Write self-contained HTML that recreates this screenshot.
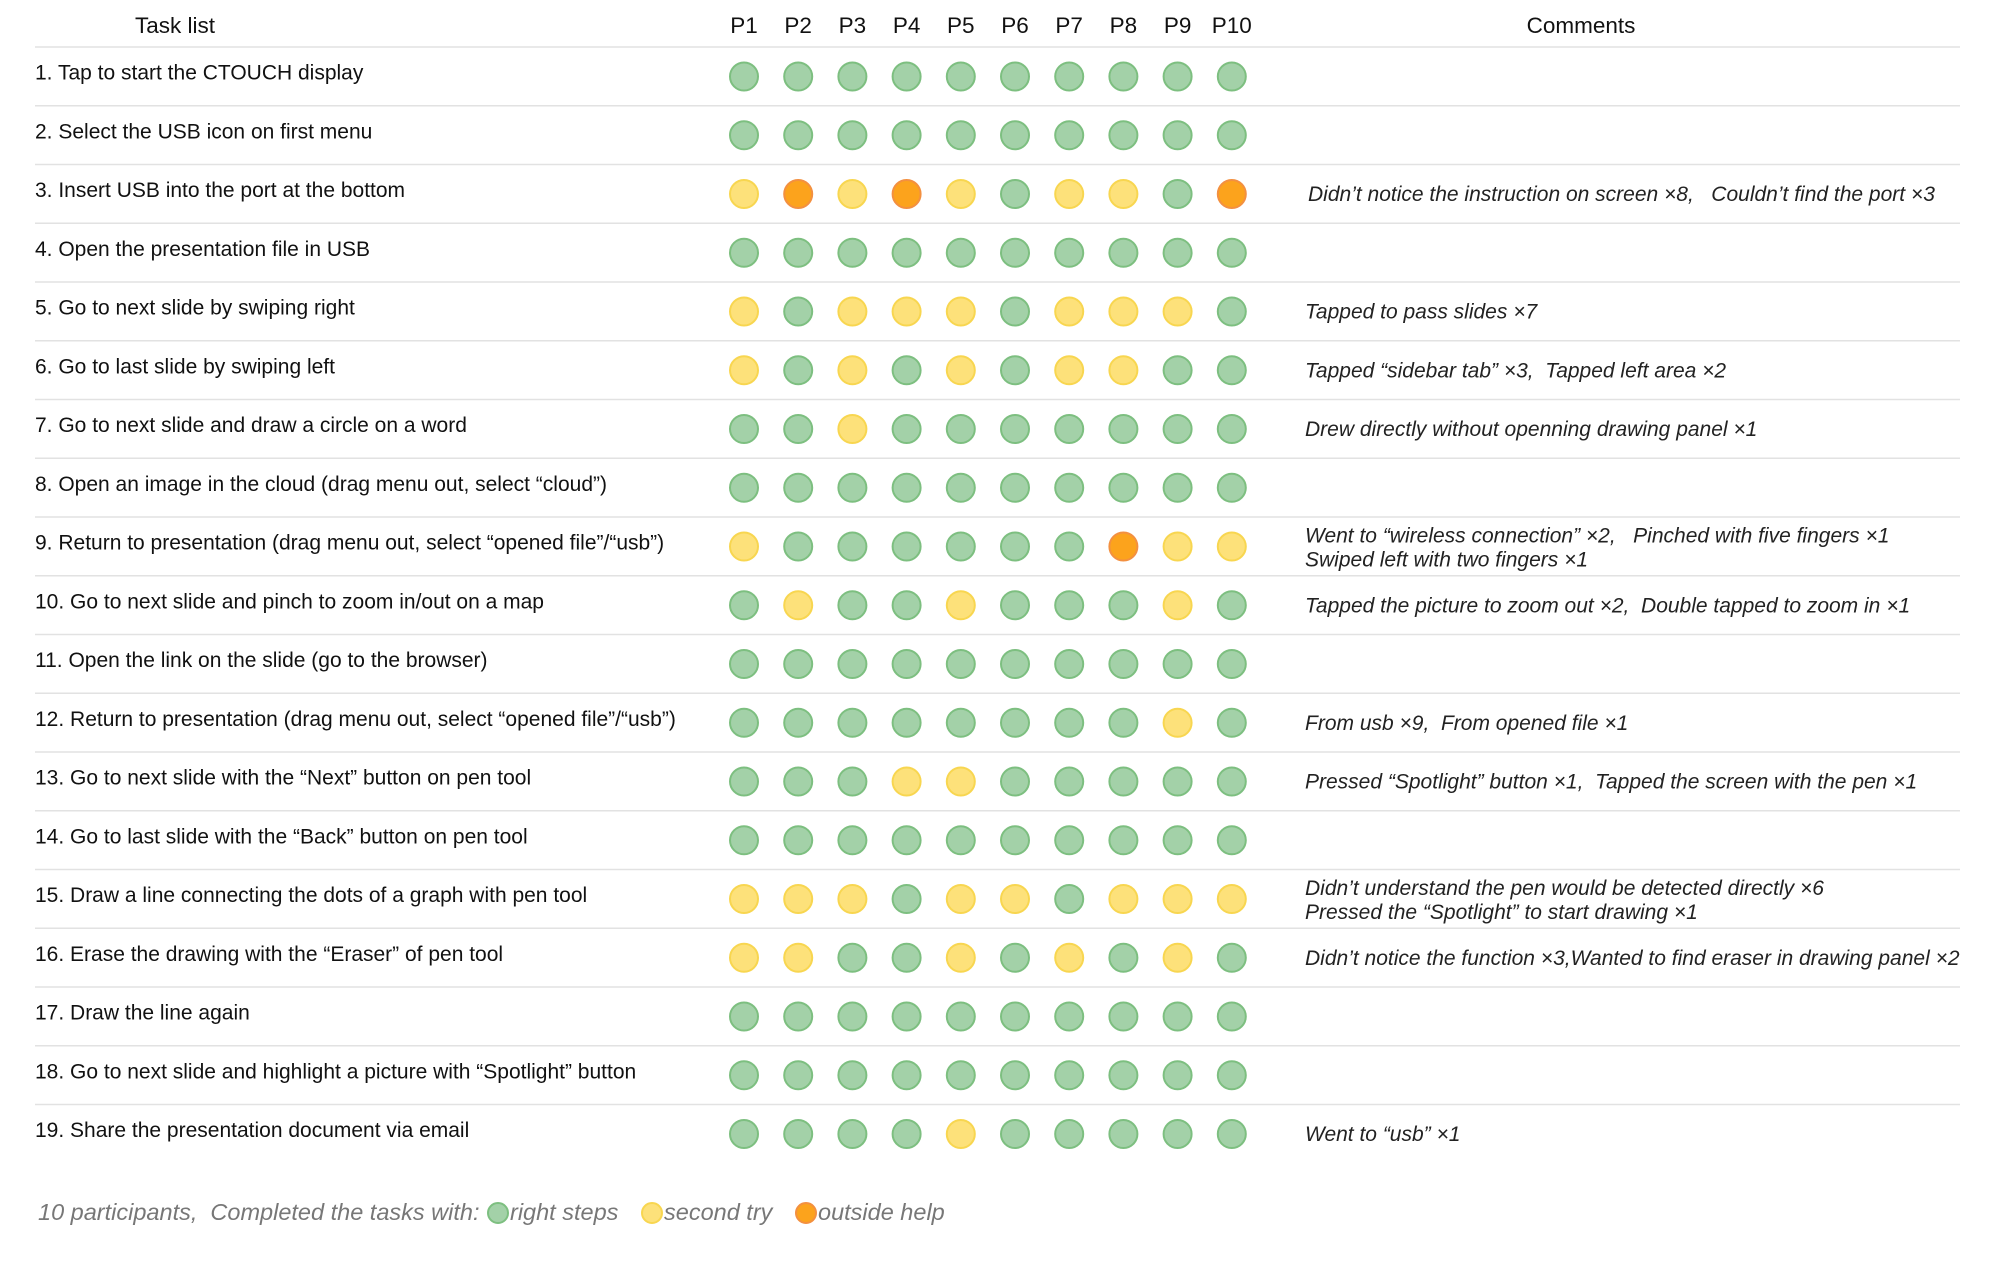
<!DOCTYPE html>
<html><head><meta charset="utf-8"><style>
body{margin:0;background:#fff;width:2000px;height:1257px;overflow:hidden;font-family:"Liberation Sans",Arial,sans-serif}
svg text{font-family:"Liberation Sans",Arial,sans-serif}
</style></head><body>
<svg id="chart" width="2000" height="1257" xmlns="http://www.w3.org/2000/svg"></svg>
<script>
const participants=["P1","P2","P3","P4","P5","P6","P7","P8","P9","P10"];
const tasks=["1. Tap to start the CTOUCH display","2. Select the USB icon on first menu","3. Insert USB into the port at the bottom","4. Open the presentation file in USB","5. Go to next slide by swiping right","6. Go to last slide by swiping left","7. Go to next slide and draw a circle on a word","8. Open an image in the cloud (drag menu out, select \u201ccloud\u201d)","9. Return to presentation (drag menu out, select \u201copened file\u201d/\u201cusb\u201d)","10. Go to next slide and pinch to zoom in/out on a map","11. Open the link on the slide (go to the browser)","12. Return to presentation (drag menu out, select \u201copened file\u201d/\u201cusb\u201d)","13. Go to next slide with the \u201cNext\u201d button on pen tool","14. Go to last slide with the \u201cBack\u201d button on pen tool","15. Draw a line connecting the dots of a graph with pen tool","16. Erase the drawing with the \u201cEraser\u201d of pen tool","17. Draw the line again","18. Go to next slide and highlight a picture with \u201cSpotlight\u201d button","19. Share the presentation document via email"];
const results=["GGGGGGGGGG","GGGGGGGGGG","YOYOYGYYGO","GGGGGGGGGG","YGYYYGYYYG","YGYGYGYYGG","GGYGGGGGGG","GGGGGGGGGG","YGGGGGGOYY","GYGGYGGGYG","GGGGGGGGGG","GGGGGGGGYG","GGGYYGGGGG","GGGGGGGGGG","YYYGYYGYYY","YYGGYGYGYG","GGGGGGGGGG","GGGGGGGGGG","GGGGYGGGGG"];
const comments=[[],[],["Didn\u2019t notice the instruction on screen \u00d78,   Couldn\u2019t find the port \u00d73"],[],["Tapped to pass slides \u00d77"],["Tapped \u201csidebar tab\u201d \u00d73,  Tapped left area \u00d72"],["Drew directly without openning drawing panel \u00d71"],[],["Went to \u201cwireless connection\u201d \u00d72,   Pinched with five fingers \u00d71","Swiped left with two fingers \u00d71"],["Tapped the picture to zoom out \u00d72,  Double tapped to zoom in \u00d71"],[],["From usb \u00d79,  From opened file \u00d71"],["Pressed \u201cSpotlight\u201d button \u00d71,  Tapped the screen with the pen \u00d71"],[],["Didn\u2019t understand the pen would be detected directly \u00d76","Pressed the \u201cSpotlight\u201d to start drawing \u00d71"],["Didn\u2019t notice the function \u00d73,Wanted to find eraser in drawing panel \u00d72"],[],[],["Went to \u201cusb\u201d \u00d71"]];
const legendLabels=["right steps","second try","outside help"];

const fills={G:"#a3d1a8",Y:"#fde17a",O:"#fca31c"};
const strokes={G:"#7dbf80",Y:"#f8d650",O:"#f39040"};
const svg=document.getElementById("chart");
const NS="http://www.w3.org/2000/svg";
const xP=i=>744+i*54.2;
const yR=r=>76.5+r*58.75;
function mk(tag,attrs,txt){const e=document.createElementNS(NS,tag);for(const k in attrs)e.setAttribute(k,attrs[k]);if(txt!==undefined)e.textContent=txt;svg.appendChild(e);return e;}

let t=mk("text",{x:175,y:33,"font-size":22.5,"text-anchor":"middle",fill:"#111"},"Task list");


t=mk("text",{x:1581,y:33,"font-size":22.5,"text-anchor":"middle",fill:"#111"},"Comments");


participants.forEach((p,i)=>{
  const e=mk("text",{x:xP(i),y:33,"font-size":22.5,"text-anchor":"middle",fill:"#111"},p);
  
  
});
tasks.forEach((task,r)=>{
  const y=yR(r);
  const ln=mk("line",{x1:35,x2:1960,y1:y-29.5,y2:y-29.5,stroke:"#e2e2e2","stroke-width":1.5});
  
  
  const e=mk("text",{x:35,y:y+3,"font-size":21,fill:"#111"},task);
  
  
  results[r].split("").forEach((c,i)=>{
    const ci=mk("circle",{cx:xP(i),cy:y,r:14,fill:fills[c],stroke:strokes[c],"stroke-width":2});
    
    
  });
  const cm=comments[r];
  cm.forEach((line,k)=>{
    const yy=cm.length===1?y+7:y-4+k*24;
    const ce=mk("text",{x:r===2?1308:1305,y:yy,"font-size":21,"font-style":"italic",fill:"#222"},line);
    ce.style.whiteSpace="pre";
    
    
  });
});
t=mk("text",{x:38,y:1220,"font-size":23.5,"font-style":"italic",fill:"#777"},"10 participants,  Completed the tasks with:");
t.style.whiteSpace="pre";


const lx=[498,652,806],lk=["G","Y","O"];
legendLabels.forEach((lab,i)=>{
  const c=mk("circle",{cx:lx[i],cy:1213,r:10,fill:fills[lk[i]],stroke:strokes[lk[i]],"stroke-width":2});
  
  
  const e=mk("text",{x:lx[i]+12,y:1220,"font-size":23.5,"font-style":"italic",fill:"#777"},lab);
  
  
});
</script>
</body></html>
